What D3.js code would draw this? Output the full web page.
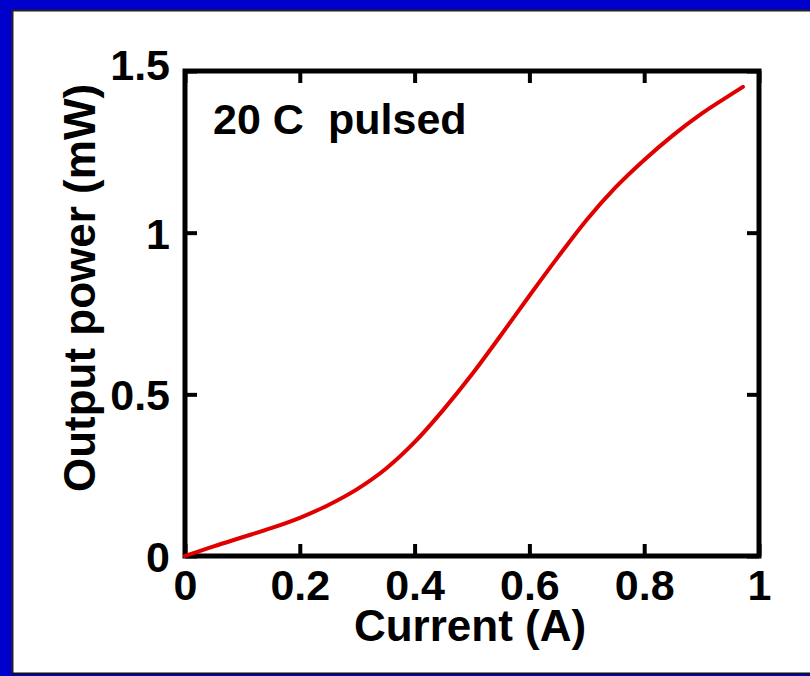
<!DOCTYPE html>
<html>
<head>
<meta charset="utf-8">
<script src="https://cdn.jsdelivr.net/npm/d3@7"></script>
<style>
  html, body { margin: 0; padding: 0; background: #0000cc; }
  svg { display: block; }
  text { font-family: "Liberation Sans", Arial, Helvetica, sans-serif; font-weight: bold; fill: #000; }
</style>
</head>
<body>
<svg id="chart" width="810" height="676"></svg>
<script>
// Light–current curve of the device (current in A, output power in mW)
const currentA = [0, 0.05, 0.1, 0.15, 0.2, 0.25, 0.3, 0.35, 0.4, 0.45, 0.5,
                  0.55, 0.6, 0.65, 0.7, 0.75, 0.8, 0.85, 0.9, 0.95, 0.972];
const powerMW  = [0, 0.03, 0.058, 0.086, 0.118, 0.158, 0.207, 0.27, 0.352, 0.452, 0.562,
                  0.682, 0.805, 0.925, 1.04, 1.14, 1.225, 1.301, 1.368, 1.426, 1.451];

const xTicks = [0, 0.2, 0.4, 0.6, 0.8, 1];
const xTickLabels = ["0", "0.2", "0.4", "0.6", "0.8", "1"];
const yTicks = [0, 0.5, 1, 1.5];
const yTickLabels = ["0", "0.5", "1", "1.5"];

const xTitle = "Current (A)";
const yTitle = "Output power (mW)";
const note = ["20 C", "pulsed"];

const svg = d3.select("#chart");
const W = 810, H = 676;

// Blue frame with a white panel and a thin dark edge
svg.append("rect").attr("width", W).attr("height", H).attr("fill", "#0000cc");
svg.append("rect").attr("x", 13).attr("y", 11).attr("width", W - 13).attr("height", 662).attr("fill", "#fff");
svg.append("line").attr("x1", 12).attr("x2", W).attr("y1", 10.5).attr("y2", 10.5).attr("stroke", "#222").attr("stroke-width", 2);
svg.append("line").attr("x1", 12.5).attr("x2", 12.5).attr("y1", 10).attr("y2", 674).attr("stroke", "#222").attr("stroke-width", 2);
svg.append("line").attr("x1", 12).attr("x2", W).attr("y1", 673.5).attr("y2", 673.5).attr("stroke", "#111").attr("stroke-width", 2);

const plot = { left: 185, right: 759, top: 71, bottom: 556 };
const x = d3.scaleLinear().domain([0, 1]).range([plot.left, plot.right]);
const y = d3.scaleLinear().domain([0, 1.5]).range([plot.bottom, plot.top]);

const tickLen = 12;
const fs = 43;      // tick labels and note
const fsTitle = 44; // axis titles

// Bottom axis (ticks point inward)
const gx = svg.append("g").attr("transform", `translate(0,${plot.bottom})`)
  .call(d3.axisBottom(x).tickValues(xTicks).tickSizeInner(-tickLen).tickSizeOuter(0)
    .tickFormat((d, i) => xTickLabels[i]).tickPadding(0));
gx.selectAll("text").attr("font-size", fs).attr("dy", null).attr("y", 44);
// Top axis
const gxt = svg.append("g").attr("transform", `translate(0,${plot.top})`)
  .call(d3.axisTop(x).tickValues(xTicks).tickSizeInner(-tickLen).tickSizeOuter(0).tickFormat(""));
// Left axis
const gy = svg.append("g").attr("transform", `translate(${plot.left},0)`)
  .call(d3.axisLeft(y).tickValues(yTicks).tickSizeInner(-tickLen).tickSizeOuter(0)
    .tickFormat((d, i) => yTickLabels[i]).tickPadding(0));
gy.selectAll("text").attr("font-size", fs).attr("x", -15).attr("dy", "0.36em")
  .attr("transform", d => d === 1.5 ? "translate(0,-7)" : null);
// Right axis
const gyr = svg.append("g").attr("transform", `translate(${plot.right},0)`)
  .call(d3.axisRight(y).tickValues(yTicks).tickSizeInner(-tickLen).tickSizeOuter(0).tickFormat(""));

[gx, gxt, gy, gyr].forEach(g => {
  g.select(".domain").remove();
  g.selectAll(".tick line").attr("stroke", "#000").attr("stroke-width", 4);
});

// Frame of the plot area
svg.append("rect")
  .attr("x", plot.left).attr("y", plot.top)
  .attr("width", plot.right - plot.left).attr("height", plot.bottom - plot.top)
  .attr("fill", "none").attr("stroke", "#000").attr("stroke-width", 5);

// Curve
const line = d3.line().x((d, i) => x(currentA[i])).y(d => y(d)).curve(d3.curveMonotoneX);
svg.append("path").datum(powerMW)
  .attr("d", line)
  .attr("fill", "none").attr("stroke", "#e00000").attr("stroke-width", 4)
  .attr("stroke-linecap", "round").attr("stroke-linejoin", "round");

// Axis titles
svg.append("text").attr("x", (plot.left + plot.right) / 2 - 2).attr("y", 641)
  .attr("text-anchor", "middle").attr("font-size", fsTitle).text(xTitle);
svg.append("text").attr("transform", "translate(95,288) rotate(-90)")
  .attr("text-anchor", "middle").attr("font-size", fsTitle).text(yTitle);

// Condition note
svg.append("text").attr("x", 213).attr("y", 134).attr("font-size", fs).text(note[0]);
svg.append("text").attr("x", 328).attr("y", 134).attr("font-size", fs).text(note[1]);
</script>
</body>
</html>
